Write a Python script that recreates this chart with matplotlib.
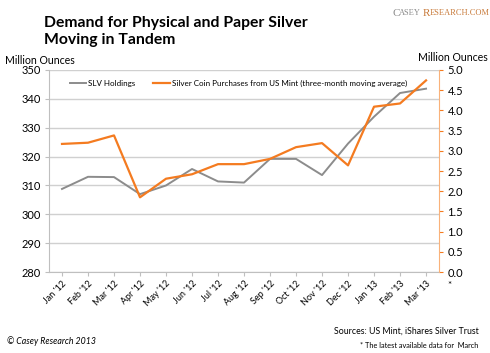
import matplotlib
matplotlib.use("Agg")
import matplotlib.pyplot as plt
import numpy as np

plt.rcParams['font.family'] = ['Lato', 'DejaVu Sans']

months = ["Jan '12", "Feb '12", "Mar '12", "Apr '12", "May '12", "Jun '12", "Jul '12",
          "Aug '12", "Sep '12", "Oct '12", "Nov '12", "Dec '12", "Jan '13", "Feb '13", "Mar '13"]
slv_holdings = [308.8, 313.0, 312.9, 307.0, 310.0, 315.7, 311.4, 311.0,
                319.2, 319.2, 313.6, 324.5, 333.8, 342.0, 343.5]
coin_purchases = [3.17, 3.20, 3.38, 1.85, 2.31, 2.42, 2.67, 2.67,
                  2.80, 3.09, 3.19, 2.64, 4.09, 4.17, 4.74]

GRAY = '#8c8c8c'
ORANGE = '#f47b20'

fig = plt.figure(figsize=(4.9, 3.53), dpi=100)
ax1 = fig.add_axes([0.1, 0.229, 0.796, 0.573])
x = np.arange(len(months))

ax1.set_xlim(-0.5, len(months) - 0.5)
ax1.set_ylim(280, 350)
ax1.set_yticks(np.arange(280, 351, 10))
ax1.yaxis.grid(True, color='#d0d0d0', lw=1)
ax1.set_axisbelow(True)
ax1.set_xticks(x)
ax1.set_xticklabels(months, rotation=45, ha='right', rotation_mode='anchor', fontsize=6.5)
ax1.tick_params(axis='y', labelsize=8, length=3, color='#bfbfbf', pad=3)
ax1.tick_params(axis='x', length=3, color='#bfbfbf', pad=2)
for s in ['top', 'right']:
    ax1.spines[s].set_visible(False)
for s in ['left', 'bottom']:
    ax1.spines[s].set_color('#bfbfbf')

l1, = ax1.plot(x, slv_holdings, color=GRAY, lw=1.4, label='SLV Holdings')

ax2 = ax1.twinx()
ax2.set_ylim(0, 5)
ax2.set_yticks(np.arange(0, 5.01, 0.5))
ax2.set_yticklabels([f'{v:.1f}' for v in np.arange(0, 5.01, 0.5)])
ax2.tick_params(axis='y', labelsize=8, length=3, color=ORANGE, pad=3)
for s in ['top', 'left', 'bottom']:
    ax2.spines[s].set_visible(False)
ax2.spines['right'].set_color('#f9b27a')
l2, = ax2.plot(x, coin_purchases, color=ORANGE, lw=1.6,
               label='Silver Coin Purchases from US Mint (three-month moving average)')

ax1.legend(handles=[l1, l2], loc='upper left', bbox_to_anchor=(0.035, 0.985), ncol=2,
           frameon=False, fontsize=5.8, handlelength=2.0, handletextpad=0.3, columnspacing=2.2)

fig.text(0.09, 0.955, 'Demand for Physical and Paper Silver\nMoving in Tandem',
         fontsize=11.3, fontweight='bold', va='top', ha='left', linespacing=1.3)
fig.text(0.01, 0.83, 'Million Ounces', fontsize=7.6, va='center')
fig.text(0.995, 0.838, 'Million Ounces', fontsize=7.6, va='center', ha='right')
fig.text(0.912, 0.19, '*', fontsize=7, va='center')

# logo text
logo_font = 'Liberation Serif'
fig.text(0.800, 0.963, 'C', fontsize=8, color='#8a8a8a', family=logo_font, va='center')
fig.text(0.814, 0.963, 'ASEY', fontsize=6, color='#8a8a8a', family=logo_font, va='center')
fig.text(0.862, 0.963, 'R', fontsize=8, color='#c87a3a', family=logo_font, va='center')
fig.text(0.876, 0.963, 'ESEARCH.COM', fontsize=6, color='#c87a3a', family=logo_font, va='center')

fig.text(0.977, 0.062, 'Sources: US Mint, iShares Silver Trust', fontsize=6.3, ha='right', va='center')
fig.text(0.977, 0.02, '* The latest available data for  March', fontsize=5.3, ha='right', va='center')
fig.text(0.015, 0.033, '\u00a9 Casey Research 2013', fontsize=6.3, style='italic', va='center')

fig.savefig('out.png', dpi=100)
